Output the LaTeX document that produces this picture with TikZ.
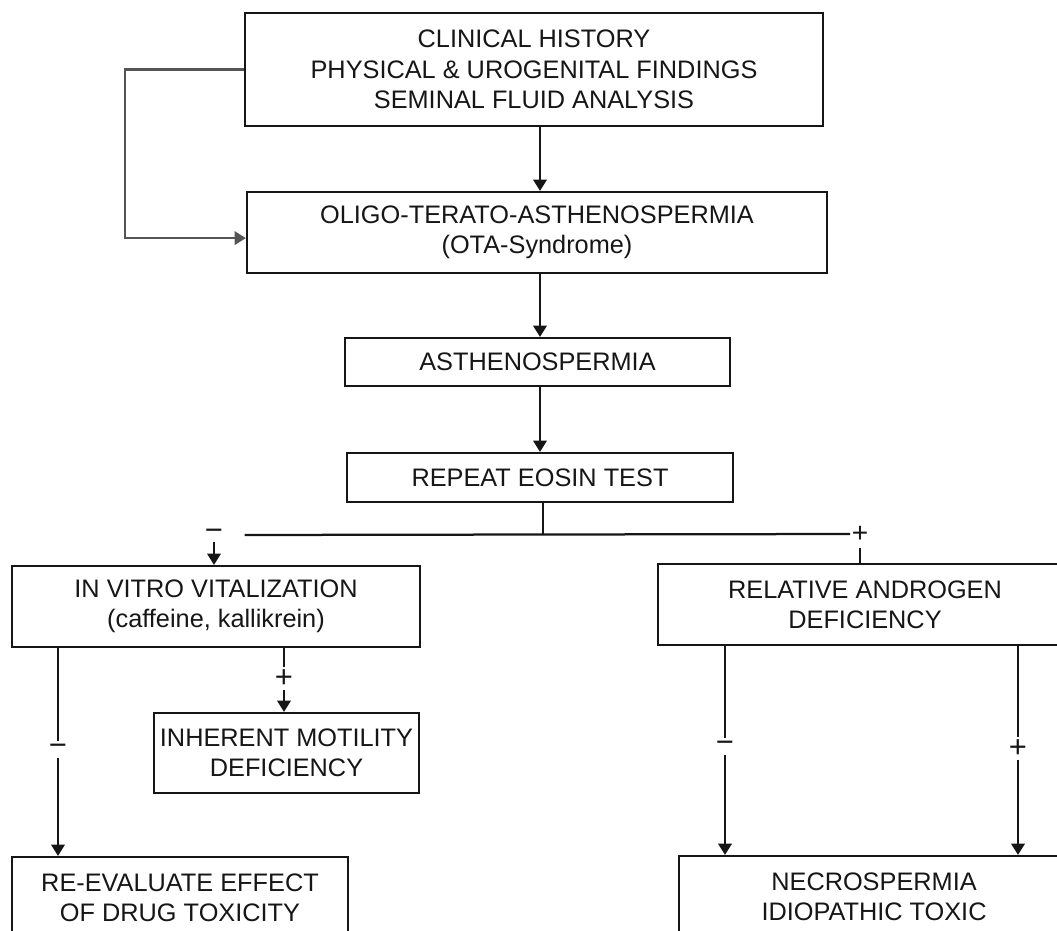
\documentclass[tikz,border=0pt]{standalone}
\usepackage{fontspec}
\setmainfont{Liberation Sans}
\usetikzlibrary{arrows.meta}
\definecolor{ink}{HTML}{161616}
\definecolor{loopgray}{HTML}{555555}

\begin{document}
\begin{tikzpicture}[x=0.025cm,y=-0.025cm,font=\fontsize{18}{21.5}\selectfont,text=ink,
    >={Triangle[length=8pt,width=9.5pt]},
    box/.style={draw=ink,line width=1.5pt,inner sep=0pt,align=center},
    link/.style={draw=ink,line width=1.6pt},
    sign/.style={fill=white,inner sep=2pt,font=\fontsize{22}{22}\selectfont}]
  \useasboundingbox (0,0) rectangle (1057,931);
  \clip (0,0) rectangle (1057,931);

  % Work-up and diagnosis, one under the other.
  \node[box,minimum width=14.45cm,minimum height=2.825cm] (hist) at (534,69.5)
    {CLINICAL HISTORY\\PHYSICAL \& UROGENITAL FINDINGS\\SEMINAL FLUID ANALYSIS};
  \node[box,minimum width=14.5cm,minimum height=2.025cm] (ota) at (537,232.5)
    {OLIGO-TERATO-ASTHENOSPERMIA\\(OTA-Syndrome)};
  \node[box,minimum width=9.625cm,minimum height=1.2cm] (asth) at (537.5,362)
    {ASTHENOSPERMIA};
  \node[box,minimum width=9.65cm,minimum height=1.225cm] (eosin) at (540,477.5)
    {REPEAT EOSIN TEST};

  % Both outcomes of the eosin test.
  \node[box,minimum width=10.2cm,minimum height=2.025cm] (vitro) at (216,606.5)
    {IN VITRO VITALIZATION\\(caffeine, kallikrein)};
  \node[box,minimum width=10.35cm,minimum height=2.025cm] (andro) at (865,604.5)
    {RELATIVE ANDROGEN\\DEFICIENCY};
  \node[box,minimum width=6.625cm,minimum height=2cm] (motil) at (286.5,753)
    {INHERENT MOTILITY\\DEFICIENCY};
  \node[box,minimum width=8.4cm,minimum height=2.025cm] (reeval) at (180,897.5)
    {RE-EVALUATE EFFECT\\OF DRUG TOXICITY};
  \node[box,minimum width=9.75cm,minimum height=2.025cm] (necro) at (874,896.5)
    {NECROSPERMIA\\IDIOPATHIC TOXIC};

  \coordinate (spine) at (540,0);
  \coordinate (fork) at (543,534);
  \coordinate (colA) at (58,0);
  \coordinate (colB) at (284,0);
  \coordinate (colC) at (725,0);
  \coordinate (colD) at (1018,0);

  \draw[link,->] (hist.south -| spine) -- (ota.north -| spine);
  \draw[loopgray,line width=1.6pt,->] (hist.west) -- ++(-119,0)
    |- ([yshift=-0.14cm]ota.west);
  \draw[link,->] (ota.south -| spine) -- (asth.north -| spine);
  \draw[link,->] (asth.south -| spine) -- (eosin.north -| spine);

  % Split under the eosin test.
  \node[inner sep=1pt,font=\fontsize{22}{22}\selectfont] (neg) at (214,535) {−};
  \node[inner sep=1pt,font=\fontsize{20}{20}\selectfont] (pos) at (860,534) {+};
  \draw[link] (eosin.south -| fork) -- (fork);
  \draw[link] ([xshift=0.5cm]neg.east) -- (pos.west);
  \draw[link,->] (neg.south) -- (vitro.north -| neg);
  \draw[link] ([yshift=-0.1cm]pos.south) -- (andro.north -| pos);

  \draw[link,->] (vitro.south -| colA) -- (reeval.north -| colA)
    node[sign,pos=.49] {−};
  \draw[link,->] (vitro.south -| colB) -- (motil.north -| colB)
    node[sign,pos=.48] {+};
  \draw[link,->] (andro.south -| colC) -- (necro.north -| colC)
    node[sign,pos=.48] {−};
  \draw[link,->] (andro.south -| colD) -- (necro.north -| colD)
    node[sign,pos=.49] {+};
\end{tikzpicture}
\end{document}
